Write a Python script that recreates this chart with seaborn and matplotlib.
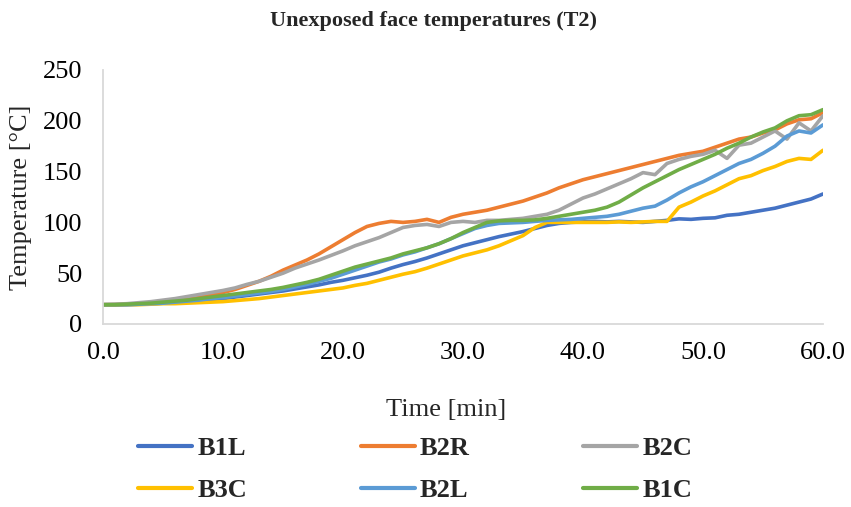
import matplotlib
matplotlib.use("Agg")
import matplotlib.pyplot as plt
from matplotlib.ticker import FormatStrFormatter
import pandas as pd
import seaborn as sns

# Time axis (minutes) and measured unexposed-face temperatures (°C)
time_min = list(range(61))

b1l = [19, 19, 19, 19.5, 20, 20.5, 21, 22, 23, 24,
       25, 26.5, 28, 29.5, 31, 32.5, 34.5, 36.5, 38.5, 41,
       43, 45.5, 48, 51, 55, 58.5, 61.5, 65, 69, 73,
       77, 80, 83, 86, 88.5, 91, 94, 97, 99, 100,
       100.5, 101, 100.5, 101, 100.5, 100, 101, 102, 103.5, 103,
       104, 104.5, 107, 108, 110, 112, 114, 117, 120, 123,
       128]

b2r = [19, 19, 19.5, 20, 20.5, 21.5, 23, 24.5, 26, 28.5,
       31, 34, 38, 42, 47, 53, 58, 63, 69, 76,
       83, 90, 96, 99, 101, 100, 101, 103, 100, 105,
       108, 110, 112, 115, 118, 121, 125, 129, 134, 138,
       142, 145, 148, 151, 154, 157, 160, 163, 166, 168,
       170, 174, 178, 182, 184, 188, 191, 197, 201, 202,
       208]

b2c = [19, 19.5, 20, 21, 22, 23.5, 25, 27, 29, 31,
       33, 35.5, 39, 42, 46, 50, 55, 59, 63, 67.5,
       72, 77, 81, 85, 90, 95, 97, 98, 96, 100,
       101, 100, 102, 102, 103, 104, 106, 108, 112, 118,
       124, 128, 133, 138, 143, 149, 147, 158, 162, 165,
       167, 171, 163, 176, 178, 184, 190, 182, 198, 190,
       205]

b3c = [19, 19, 19, 19, 19.5, 20, 20, 20.5, 21, 21.5,
       22, 23, 24, 25, 26.5, 28, 29.5, 31, 32.5, 34,
       35.5, 38, 40, 43, 46, 49, 51.5, 55, 59, 63,
       67, 70, 73, 77, 82, 87, 95, 100, 100, 100,
       100, 100, 100, 100.5, 100, 100.5, 101, 101, 115, 120,
       126, 131, 137, 143, 146, 151, 155, 160, 163, 162,
       171]

b2l = [19, 19, 19, 19.5, 20, 20.5, 21.5, 22.5, 23.5, 25,
       26, 27.5, 29, 30.5, 32, 34, 36.5, 39, 42, 45,
       49, 53, 57, 61, 64, 68, 71, 75, 79, 84,
       89, 94, 97, 99, 99.5, 100, 101, 102, 102.5, 103,
       104, 105, 106, 108, 111, 114, 116, 122, 129, 135,
       140, 146, 152, 158, 162, 168, 175, 185, 190, 188,
       196]

b1c = [19, 19, 19.5, 20, 20.5, 21.5, 22.5, 23.5, 25, 26.5,
       28, 29.5, 31, 32.5, 34, 36, 38.5, 41, 44, 48,
       52, 56, 59, 62, 65, 69, 72, 75, 79, 84,
       90, 95, 100, 101.5, 102, 102, 102.5, 104, 106, 108,
       110, 112, 115, 120, 127, 134, 140, 146, 152, 157,
       162, 167, 173, 178, 184, 189, 193, 200, 205, 206,
       211]

series_names = ["B1L", "B2R", "B2C", "B3C", "B2L", "B1C"]
series_values = [b1l, b2r, b2c, b3c, b2l, b1c]
series_colors = ["#4472C4", "#ED7D31", "#A5A5A5", "#FFC000", "#5B9BD5", "#70AD47"]

x_ticks = [0, 10, 20, 30, 40, 50, 60]
y_ticks = [0, 50, 100, 150, 200, 250]

frames = [pd.DataFrame({"Time": time_min, "Temperature": vals, "Series": name})
          for name, vals in zip(series_names, series_values)]
df = pd.concat(frames, ignore_index=True)

sns.set_theme(style="white")
plt.rcParams["font.family"] = ["Liberation Serif", "DejaVu Serif"]

W, H = 851, 507
fig = plt.figure(figsize=(W / 100, H / 100), dpi=100)
ax = fig.add_axes([103 / W, 1 - 324 / H, (823 - 103) / W, (324 - 70) / H])

sns.lineplot(data=df, x="Time", y="Temperature", hue="Series",
             hue_order=series_names, palette=series_colors,
             estimator=None, linewidth=2.6, ax=ax)

ax.set_xlim(0, 60)
ax.set_ylim(0, 250)
ax.set_xticks(x_ticks)
ax.set_yticks(y_ticks)
ax.xaxis.set_major_formatter(FormatStrFormatter("%.1f"))
ax.set_xlabel("")
ax.set_ylabel("")

for side in ["top", "right"]:
    ax.spines[side].set_visible(False)
for side in ["left", "bottom"]:
    ax.spines[side].set_color("#d9d9d9")
    ax.spines[side].set_linewidth(1.3)

ax.tick_params(axis="x", length=0, labelsize=19, pad=13, colors="black")
ax.tick_params(axis="y", length=0, labelsize=19, pad=15, colors="black")

fig.text(433.5 / W, 1 - 21 / H, "Unexposed face temperatures (T2)",
         ha="center", va="center", fontsize=16, fontweight="bold")
fig.text(446 / W, 1 - 410 / H, "Time [min]", ha="center", va="center", fontsize=19)
fig.text(21 / W, 1 - 197 / H, "Temperature [°C]", ha="center", va="center",
         rotation=90, fontsize=19)

# Legend laid out row by row: B1L B2R B2C / B3C B2L B1C
handles, labels = ax.get_legend_handles_labels()
if ax.get_legend() is not None:
    ax.get_legend().remove()
for h in handles:
    h.set_linewidth(3)
lookup = dict(zip(labels, handles))
ncol = 3
nrow = 2
col_major = [series_names[r * ncol + c] for c in range(ncol) for r in range(nrow)]
fig.legend([lookup[n] for n in col_major], col_major, ncol=ncol, loc="center left",
           bbox_to_anchor=(138 / W, 1 - 469.5 / H), frameon=False,
           borderpad=0, borderaxespad=0, handlelength=2.05, handletextpad=0.2,
           columnspacing=4.3, labelspacing=0.72,
           prop={"weight": "bold", "size": 19})

fig.savefig("out.png", dpi=100)
